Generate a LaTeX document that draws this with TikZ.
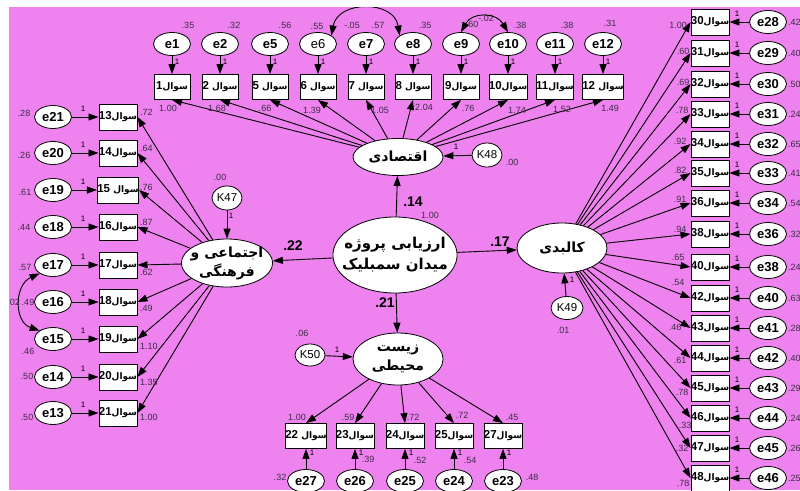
\documentclass[tikz,border=0pt]{standalone}
\usepackage{fontspec}
\setmainfont{Liberation Sans}
\newfontfamily\fa[Script=Arabic]{DejaVu Sans}
\TeXXeTstate=1
\usetikzlibrary{arrows.meta,shapes.geometric}
\definecolor{bg}{RGB}{238,130,238}
\definecolor{numc}{RGB}{60,45,70}
\newcommand\sqn[1]{{\fa\bfseries\fontsize{9}{9}\selectfont\beginR سوال\beginL{\normalfont\bfseries\fontsize{11.5}{11}\selectfont #1}\endL\endR}}
\newcommand\sqs[1]{{\fa\bfseries\fontsize{9}{9}\selectfont\beginR سوال \beginL{\normalfont\bfseries\fontsize{11.5}{11}\selectfont #1}\endL\endR}}
\tikzset{
  box/.style={draw, fill=white, line width=0.8pt, minimum width=36pt, minimum height=25pt, inner sep=0pt},
  err/.style={draw, fill=white, ellipse, line width=0.8pt, minimum width=37pt, minimum height=23pt, inner sep=0pt, font=\bfseries\fontsize{13}{13}\selectfont},
  dist/.style={draw, fill=white, ellipse, line width=0.8pt, minimum width=30pt, minimum height=24pt, inner sep=0pt, font=\fontsize{11.5}{11}\selectfont},
  lat/.style={draw, fill=white, ellipse, line width=0.8pt, inner sep=0pt, align=center, font=\fa\bfseries\fontsize{14}{19}\selectfont},
  arr/.style={-{Triangle[length=10pt,width=7pt]}, line width=0.9pt},
  darr/.style={{Triangle[length=10pt,width=7pt]}-{Triangle[length=10pt,width=7pt]}, line width=0.9pt},
  num/.style={inner sep=0pt, text=numc, font=\fontsize{9}{9}\selectfont},
  one/.style={inner sep=0pt, font=\fontsize{8}{8}\selectfont},
  pathlbl/.style={inner sep=0pt, font=\bfseries\fontsize{14}{14}\selectfont}
}
\begin{document}
\begin{tikzpicture}[x=1pt,y=-1pt]
\useasboundingbox (0,0) rectangle (800,490);
\clip (0,0) rectangle (800,490);
\fill[bg] (0,0) rectangle (800,490);

% latent variables
\node[lat, inner sep=-9pt, minimum width=124pt, minimum height=76pt, font=\fa\bfseries\fontsize{15}{21}\selectfont] (cen) at (395,255) {\beginR ارزیابی پروژه\endR\\\beginR میدان سمبلیک\endR};
\node[lat, minimum width=90pt, minimum height=37pt] (eco) at (398,157) {\beginR اقتصادی\endR};
\node[lat, inner sep=-4pt, minimum width=88pt, minimum height=48pt] (soc) at (227,263) {\beginR اجتماعی و\endR\\\beginR فرهنگی\endR};
\node[lat, minimum width=90pt, minimum height=50pt] (kal) at (562,248) {\beginR کالبدی\endR};
\node[lat, inner sep=-4pt, minimum width=90pt, minimum height=52pt] (env) at (398,359) {\beginR زیست\endR\\\beginR محیطی\endR};

\node[dist] (k47) at (227,198) {K47};
\node[dist] (k48) at (487,155) {K48};
\node[dist, minimum width=32pt, minimum height=23pt] (k49) at (567,308) {K49};
\node[dist, minimum height=22pt] (k50) at (310,355) {K50};

\draw[arr] (cen) -- (eco);
\draw[arr] (cen) -- (soc);
\draw[arr] (cen) -- (kal);
\draw[arr] (cen) -- (env);
\draw[arr] (k47) -- (soc);
\draw[arr] (k48) -- (eco);
\draw[arr] (k49) -- (kal);
\draw[arr] (k50) -- (env);

% top row
\foreach \i/\x/\e/\q in {1/172/e1/\sqn{1}, 2/220/e2/\sqs{2}, 3/270/e5/\sqs{5}, 4/318/{\mdseries e6}/\sqs{6}, 5/366/e7/\sqs{7}, 6/413/e8/\sqs{8}, 7/461/e9/\sqn{9}, 8/508/e10/\sqn{10}, 9/555/e11/\sqn{11}, 10/603/e12/\sqs{12}}{
  \node[err] (te\i) at (\x,44) {\e};
  \node[box] (tb\i) at (\x,87) {\q};
  \draw[arr] (te\i) -- (tb\i);
  \node[one] (to\i) at (\x+5,62) {1};
  \draw[arr] (eco) -- (tb\i.south);
}
\foreach \n/\x/\y/\t in {1/188/25/.35, 2/234/25/.32, 3/285/25/.56, 4/317/26/.55, 5/352/25/-.05, 6/378/25/.57, 7/425/25/.35, 8/472/24/.60, 9/486/18/-.02, 10/520/25/.38, 11/567/25/.38, 12/610/23/.31}
  \node[num] (tv\n) at (\x,\y) {\t};
\foreach \n/\x/\y/\t in {1/168/108/1.00, 2/217/108/1.68, 3/265/108/.66, 4/312/110/1.39, 5/380/110/1.05, 6/424/107/2.04, 7/468/108/.76, 8/517/110/1.74, 9/562/109/1.52, 10/610/108/1.49}
  \node[num] (tl\n) at (\x,\y) {\t};
\draw[darr] (te4.north east) .. controls (338,0) and (394,0) .. (te6.north west);
\draw[darr] (te7.north) .. controls (472,12) and (496,12) .. (te8.north);

% left column
\foreach \i/\y/\e/\q in {1/117/e21/\sqn{13}, 2/153/e20/\sqn{14}, 3/190/e19/\sqs{15}, 4/227/e18/\sqn{16}, 5/265/e17/\sqn{17}, 6/302/e16/\sqn{18}, 7/339/e15/\sqn{19}, 8/377/e14/\sqn{20}, 9/413/e13/\sqn{21}}{
  \node[err] (le\i) at (53,\y) {\e};
  \node[box, minimum height=26pt, minimum width=37pt] (lb\i) at (118,\y) {\q};
  \draw[arr] (le\i) -- (lb\i);
  \node[one] (lo\i) at (83,\y-8) {1};
  \draw[arr] (soc) -- (lb\i.east);
}
\foreach \n/\x/\y/\t in {1/24/113/.28, 2/24/155/.26, 3/25/192/.61, 4/24/227/.44, 5/25/267/.57, 6/28/302/.49, 7/28/351/.46, 8/27/376/.50, 9/27/417/.50}
  \node[num] (lv\n) at (\x,\y) {\t};
\node[num, anchor=east] (lcov) at (20,302) {.02};
\foreach \n/\y/\t in {1/112/.72, 2/148/.64, 3/187/.76, 4/222/.87, 5/272/.62, 6/308/.49, 7/346/1.10, 8/382/1.35, 9/417/1.00}
  \node[num, anchor=west] (ll\n) at (140,\y) {\t};
\draw[darr] (le5.south west) .. controls (14,285) and (14,322) .. (le7.north west);

% right column
\foreach \i/\y/\e/\q in {1/22/e28/30, 2/53/e29/31, 3/84/e30/32, 4/114/e31/33, 5/144/e32/34, 6/173/e33/35, 7/203/e34/36, 8/234/e36/38, 9/267/e38/40, 10/298/e40/42, 11/328/e41/43, 12/358/e42/44, 13/388/e43/45, 14/418/e44/46, 15/448/e45/47, 16/478/e46/48}{
  \node[box, minimum height=26pt] (rb\i) at (710,\y) {\sqn{\q}};
  \node[err] (re\i) at (768,\y) {\e};
  \draw[arr] (re\i) -- (rb\i);
  \node[one] (ro\i) at (737,\y-8) {1};
  \draw[arr] (kal) -- (rb\i.west);
}
\foreach \n/\y/\t in {1/22/.42, 2/53/.40, 3/84/.50, 4/114/.24, 5/144/.65, 6/173/.41, 7/203/.54, 8/234/.32, 9/267/.24, 10/298/.63, 11/328/.28, 12/358/.40, 13/388/.29, 14/418/.24, 15/448/.26, 16/478/.25}
  \node[num, anchor=west] (rv\n) at (788,\y) {\t};
\foreach \n/\x/\y/\t in {1/678/25/1.00, 2/683/51/.60, 3/683/82/.69, 4/682/110/.78, 5/680/141/.92, 6/680/170/.82, 7/680/199/.91, 8/680/229/.94, 9/678/257/.65, 10/678/282/.54, 11/675/327/.46, 12/680/360/.61, 13/682/392/.78, 14/685/425/.33, 15/682/448/.32, 16/683/483/.78}
  \node[num] (rl\n) at (\x,\y) {\t};

% bottom row
\foreach \i/\x/\e/\q in {1/306/e27/\sqs{22}, 2/355/e26/\sqn{23}, 3/405/e25/\sqn{24}, 4/454/e24/\sqn{25}, 5/503/e23/\sqn{27}}{
  \node[box] (bb\i) at (\x,436) {\q};
  \node[err] (be\i) at (\x,481) {\e};
  \draw[arr] (be\i) -- (bb\i);
  \node[one] (bo\i) at (\x+6,453) {1};
  \draw[arr] (env) -- (bb\i.north);
}
\foreach \n/\x/\y/\t in {1/297/417/1.00, 2/348/417/.59, 3/413/417/.72, 4/462/415/.72, 5/512/417/.45}
  \node[num] (bl\n) at (\x,\y) {\t};
\foreach \n/\x/\y/\t in {1/280/477/.32, 2/368/459/.39, 3/420/460/.52, 4/470/460/.54, 5/532/477/.48}
  \node[num] (bv\n) at (\x,\y) {\t};

% structural labels
\node[pathlbl] (p14) at (413,202) {.14};
\node[pathlbl] (p22) at (293,246) {.22};
\node[pathlbl] (p17) at (500,242) {.17};
\node[pathlbl] (p21) at (385,303) {.21};
\node[num] (cvar) at (430,215) {1.00};
\node[num] (k47v) at (220,177) {.00};
\node[one] (k47o) at (231,216) {1};
\node[num] (k48v) at (512,162) {.00};
\node[one] (k48o) at (456,147) {1};
\node[num] (k49v) at (563,330) {.01};
\node[one] (k49o) at (572,280) {1};
\node[num] (k50v) at (302,333) {.06};
\node[one] (k50o) at (337,350) {1};

% white margins
\fill[white] (0,0) rectangle (800,7);
\fill[white] (0,0) rectangle (9,490);
\end{tikzpicture}
\end{document}
